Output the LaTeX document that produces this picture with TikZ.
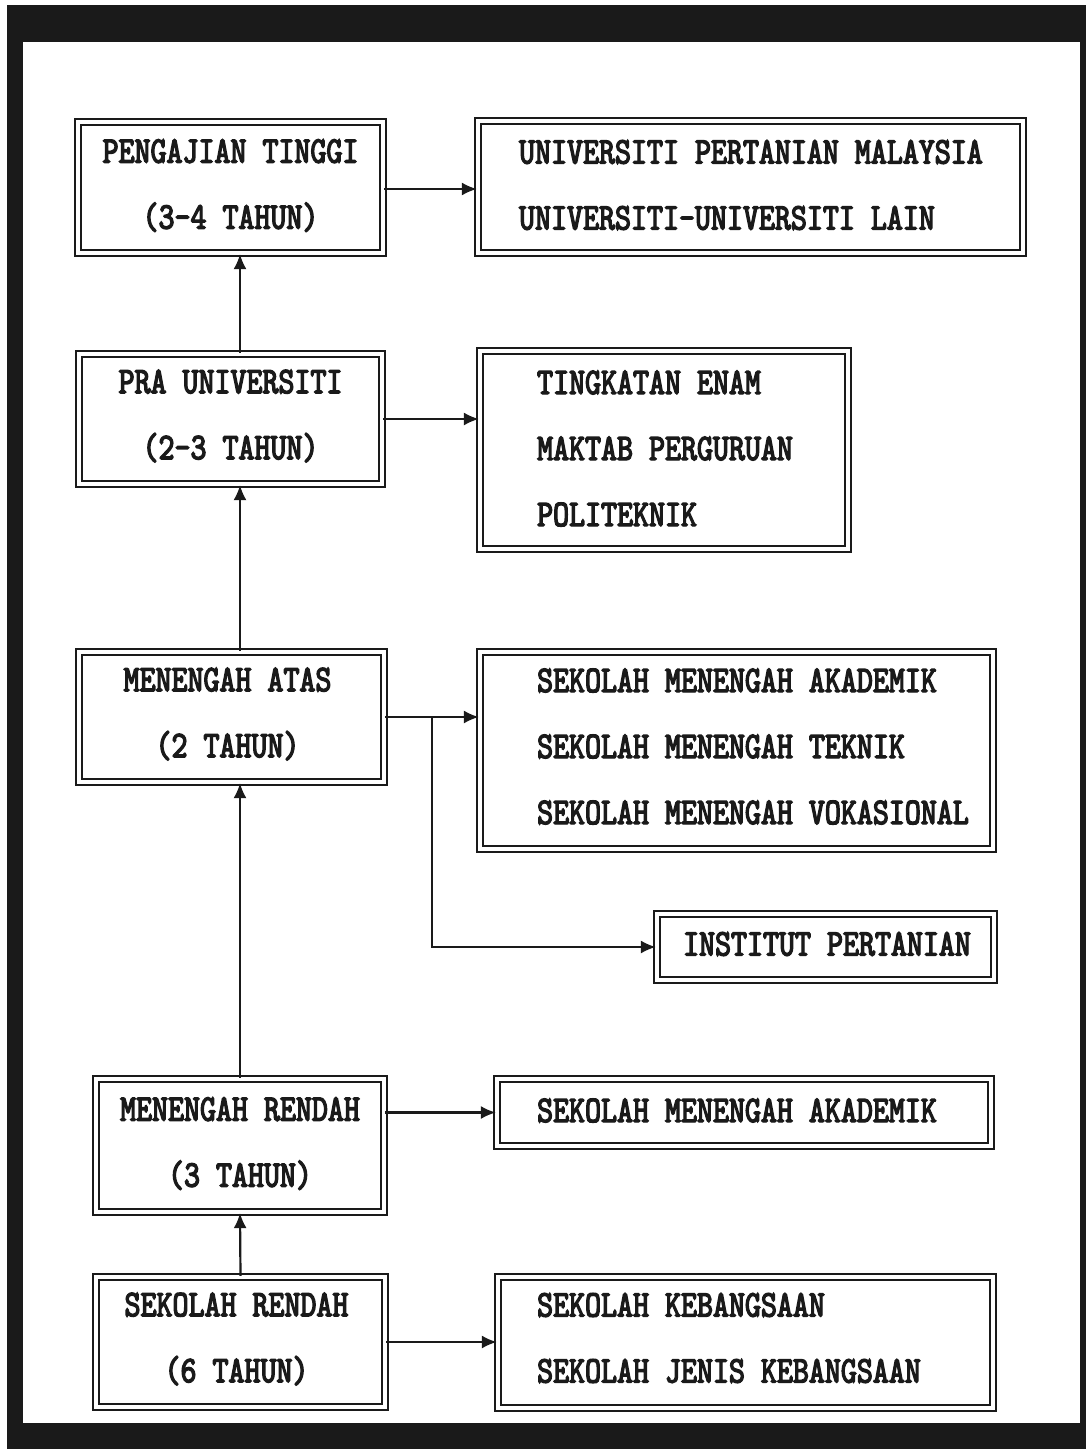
\documentclass[tikz,border=0pt]{standalone}
\usepackage{fontspec}
\newfontfamily\typefont{lmmono10-regular.otf}[FakeStretch=0.81, FakeBold=3.5]
\usetikzlibrary{arrows.meta,calc}
\definecolor{ink}{HTML}{1A1A1A}
\begin{document}
\begin{tikzpicture}[x=1pt,y=-1pt,
  box/.style 2 args={draw=ink, double=white, double distance=3.6pt, line width=2.2pt,
    minimum width=#1pt, minimum height=#2pt, inner sep=0pt},
  txt/.style={inner sep=0pt, font=\typefont\fontsize{37.6pt}{66pt}\selectfont, text=ink},
  lbl/.style={txt, align=left, anchor=west},
  ctr/.style={txt, align=center},
  arr/.style={draw=ink, line width=2.2pt, -{Latex[length=15pt,width=13pt]}}]
\useasboundingbox (0,0) rectangle (1086,1449);
\fill[white] (0,0) rectangle (1086,1449);
\fill[ink] (7,5) rectangle (1086,1449);
\fill[white] (23,42) rectangle (1080,1423);

% boxes
\node[box={305}{131}] (A) at (230.5,187.5) {};
\node[box={545}{132}] (B) at (750.5,187) {};
\node[box={303}{130}] (C) at (230.5,419) {};
\node[box={368}{198}] (D) at (664,450) {};
\node[box={305}{130}] (E) at (231.5,717) {};
\node[box={513}{197}] (F) at (736.5,750.5) {};
\node[box={337}{66}] (G) at (825.5,947) {};
\node[box={288}{133}] (H) at (240,1145.5) {};
\node[box={494}{67}] (I) at (744,1112.5) {};
\node[box={289}{130}] (J) at (240.5,1342) {};
\node[box={495}{131}] (K) at (745.5,1342.5) {};

% texts of the left-hand boxes
\node[ctr] (At) at ([yshift=2pt]A.center) {PENGAJIAN TINGGI\\(3-4 TAHUN)};
\node[ctr] (Ct) at ([yshift=3pt]C.center) {PRA UNIVERSITI\\(2-3 TAHUN)};
\node[ctr] (Et) at ([xshift=-4pt,yshift=3pt]E.center) {MENENGAH ATAS\\(2 TAHUN)};
\node[ctr] (Ht) at ([yshift=2pt]H.center) {MENENGAH RENDAH\\(3 TAHUN)};
\node[ctr] (Jt) at ([xshift=-4pt,yshift=3pt]J.center) {SEKOLAH RENDAH\\(6 TAHUN)};

% texts of the right-hand boxes
\node[lbl] (Bt) at ([xshift=42pt,yshift=2pt]B.west) {UNIVERSITI PERTANIAN MALAYSIA\\UNIVERSITI-UNIVERSITI LAIN};
\node[lbl] (Dt) at ([xshift=58pt,yshift=1.5pt]D.west) {TINGKATAN ENAM\\MAKTAB PERGURUAN\\POLITEKNIK};
\node[lbl] (Ft) at ([xshift=58pt,yshift=4pt]F.west) {SEKOLAH MENENGAH AKADEMIK\\SEKOLAH MENENGAH TEKNIK\\SEKOLAH MENENGAH VOKASIONAL};
\node[lbl] (Gt) at ([xshift=27pt,yshift=3pt]G.west) {INSTITUT PERTANIAN};
\node[lbl] (It) at ([xshift=41pt,yshift=2pt]I.west) {SEKOLAH MENENGAH AKADEMIK};
\node[lbl] (Kt) at ([xshift=40pt,yshift=4.5pt]K.west) {SEKOLAH KEBANGSAAN\\SEKOLAH JENIS KEBANGSAAN};

% vertical arrows
\draw[arr] (J.north) -- (H.south);
\draw[arr] (H.north) -- (H.north |- E.south);
\draw[arr] (E.north -| H.north) -- (C.south -| H.north);
\draw[arr] (C.north -| H.north) -- (A.south -| H.north);

% horizontal arrows
\draw[arr] ([yshift=-1.5pt]A.east) -- ([yshift=-1.5pt]A.east -| B.west);
\draw[arr] (C.east) -- (C.east -| D.west);
\draw[arr] (E.east) -- (E.east -| F.west);
\coordinate (br) at (432,717);
\draw[arr] (br) |- (G.west);
\draw[arr] (I.west -| H.east) -- (I.west);
\draw[arr] (J.east) -- (J.east -| K.west);
\end{tikzpicture}
\end{document}
